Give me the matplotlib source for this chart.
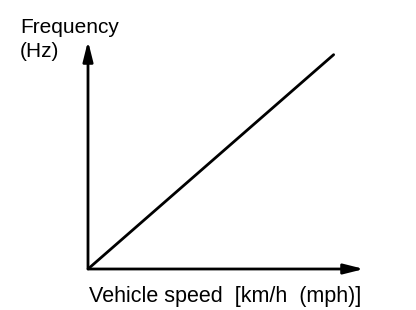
import matplotlib.pyplot as plt
import numpy as np

# Frequency rises linearly with vehicle speed (no scale given)
speed = [0, 89]
frequency = [0, 94]

plt.rcParams['font.family'] = ['Liberation Sans', 'DejaVu Sans']

W, H = 416, 310
fig = plt.figure(figsize=(W / 100, H / 100), dpi=100)

# axes box: origin at (88, 269) px, x arrow to 364 px, y arrow to 41 px
x0, y0, x1, y1 = 88, 269, 364, 41
ax = fig.add_axes([x0 / W, 1 - y0 / H, (x1 - x0) / W, (y0 - y1) / H])
ax.set_xlim(0, 100)
ax.set_ylim(0, 100)
ax.axis('off')

ax.plot(speed, frequency, color='black', lw=2.0, solid_capstyle='round')

# axis arrows
arrow = dict(arrowstyle='-|>,head_length=1.2,head_width=0.3', color='black', lw=2.0,
             shrinkA=0, shrinkB=0)
ax.annotate('', xy=(100, 0), xytext=(0, 0), xycoords='data', arrowprops=arrow,
            annotation_clip=False)
ax.annotate('', xy=(0, 100), xytext=(0, 0), xycoords='data', arrowprops=arrow,
            annotation_clip=False)

fig.text(20 / W, 1 - 33 / H, 'Frequency', fontsize=15, ha='left', va='baseline')
fig.text(20 / W, 1 - 57 / H, '(Hz)', fontsize=15, ha='left', va='baseline')
fig.text(89 / W, 1 - 302 / H, 'Vehicle speed  [km/h  (mph)]', fontsize=15.5,
         ha='left', va='baseline')

fig.savefig('out.png', dpi=100)
